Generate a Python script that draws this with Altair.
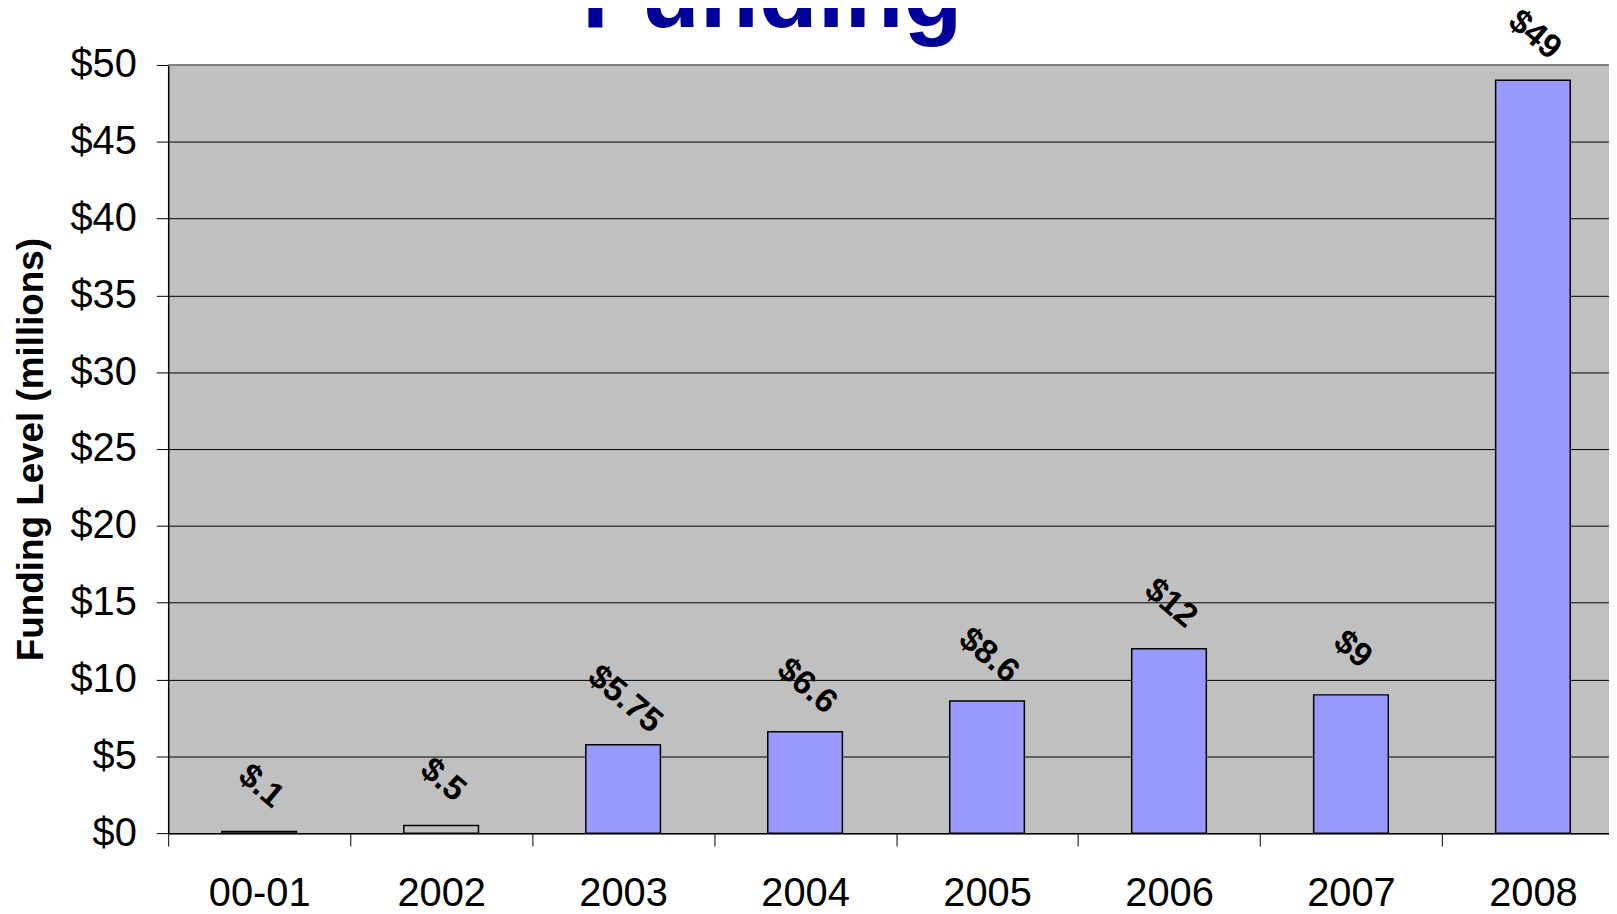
import altair as alt
import pandas as pd

categories = ["00-01", "2002", "2003", "2004", "2005", "2006", "2007", "2008"]
values = [0.1, 0.5, 5.75, 6.6, 8.6, 12, 9, 49]
labels = ["$.1", "$.5", "$5.75", "$6.6", "$8.6", "$12", "$9", "$49"]
y_ticks = [0, 5, 10, 15, 20, 25, 30, 35, 40, 45, 50]
title_text = ["Funding"]

df = pd.DataFrame({"year": categories, "value": values, "label": labels})

FONT = "Liberation Sans"

x = alt.X(
    "year:N",
    sort=categories,
    scale=alt.Scale(rangeMax=1463, paddingInner=0, paddingOuter=0),
    axis=alt.Axis(
        title=None, labelAngle=0, labelFont=FONT, labelFontSize=40,
        labelColor="black", labelPadding=28, tickBand="extent", tickSize=13,
        tickColor="black", tickWidth=1, domainColor="black", domainWidth=1.5,
        grid=False,
    ),
)

y = alt.Y(
    "value:Q",
    scale=alt.Scale(domain=[0, 50], nice=False, zero=True),
    axis=alt.Axis(
        values=y_ticks, labelExpr="'$' + datum.value",
        title="Funding Level (millions)", titleFont=FONT, titleFontSize=37,
        titleFontWeight="bold", titleColor="black", titleX=-137, titleY=386,
        titleAngle=270, titleAlign="center", titleBaseline="middle",
        labelFont=FONT, labelFontSize=40, labelColor="black", labelPadding=20,
        tickSize=12, tickColor="black", gridColor="black", gridWidth=1,
        domainColor="black", domainWidth=1.5,
    ),
)

bars = alt.Chart(df).mark_bar(
    stroke="black", strokeWidth=1.5, width=alt.RelativeBandSize(0.41)
).encode(
    x=x, y=y,
    fill=alt.condition("datum.value < 1", alt.value("#C0C0C0"), alt.value("#9999FF")),
)

text = alt.Chart(df).mark_text(
    font=FONT, fontSize=34, fontWeight="bold", angle=40, align="center",
    baseline="middle", dx=-28, dy=-36, color="black",
).encode(x=x, y="value:Q", text="label:N")

top = alt.Chart(pd.DataFrame({"v": [50]})).mark_rule(
    color="#808080", strokeWidth=2
).encode(y="v:Q")

title = alt.Chart(pd.DataFrame({"t": title_text})).mark_text(
    font=FONT, fontSize=97, fontWeight="bold", color="#000099",
    align="center", baseline="alphabetic",
).encode(x=alt.value(607), y=alt.value(-38), text="t:N")

chart = alt.layer(bars, text, top, title).properties(
    width=1448,
    height=772,
    autosize=alt.AutoSizeParams(type="none"),
    padding={"left": 161, "top": 55, "right": 0, "bottom": 79},
).configure_view(fill="#C0C0C0", stroke=None)

chart.save("out.html", embed_options={"renderer": "svg", "actions": False})
